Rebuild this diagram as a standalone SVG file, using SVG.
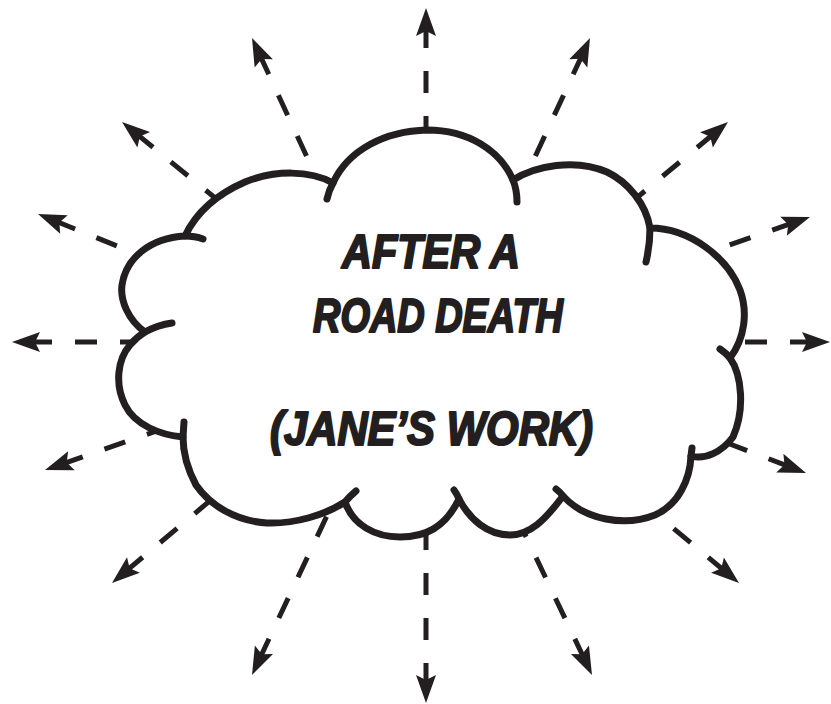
<svg xmlns="http://www.w3.org/2000/svg" width="831" height="704" viewBox="0 0 831 704">
  <style>
    .arrow { fill: none; stroke: #231f20; stroke-width: 5; stroke-dasharray: 22 23; stroke-dashoffset: 27; marker-start: url(#ah); }
    .cloud { fill: #ffffff; stroke: #231f20; stroke-width: 7; stroke-linejoin: round; }
    .tail { fill: none; stroke: #231f20; stroke-width: 7; stroke-linecap: round; }
    .label { font-family: "Liberation Sans", Arial, sans-serif; font-weight: bold; font-style: italic; font-size: 48px; fill: #231f20; stroke: #231f20; stroke-width: 2.2; stroke-linejoin: round; }
  </style>
  <defs>
    <marker id="ah" markerUnits="userSpaceOnUse" markerWidth="40" markerHeight="30" viewBox="-30 -15 40 30" refX="0" refY="0" orient="auto-start-reverse" overflow="visible">
      <path d="M0,0 L-28,-10 L-23,0 L-28,10 Z" fill="#231f20"/>
    </marker>
  </defs>
  <rect width="831" height="704" fill="#ffffff"/>
  <g id="connectors">
    <path class="arrow" d="M426,8 L426,150"/>
    <path class="arrow" d="M252,38 L312,168"/>
    <path class="arrow" d="M590,38 L528,172"/>
    <path class="arrow" d="M122,122 L225,206"/>
    <path class="arrow" d="M728,122 L628,205"/>
    <path class="arrow" d="M38,214 L132,252"/>
    <path class="arrow" d="M810,217 L718,249"/>
    <path class="arrow" d="M12,342 L155,342"/>
    <path class="arrow" d="M830,342 L728,342"/>
    <path class="arrow" d="M45,470 L165,428"/>
    <path class="arrow" d="M806,473 L714,438"/>
    <path class="arrow" d="M112,583 L218,494"/>
    <path class="arrow" d="M739,583 L661,518"/>
    <path class="arrow" d="M252,675 L332,505"/>
    <path class="arrow" d="M426,703 L426,525"/>
    <path class="arrow" d="M592,675 L520,524"/>
  </g>
  <g id="cloud">
    <path class="cloud" d="M333,183 C348,150 385,131 427,130 C468,130 500,150 513,180 C535,166 575,158 607,172 C628,182 646,204 650,228 C690,228 728,258 740,290 C748,312 745,338 730,358 C742,375 745,410 733,437 C722,452 705,460 691,456 C690,480 678,505 655,515 C625,527 585,520 563,496 C545,520 530,535 510,535 C488,535 470,520 459,499 C445,528 425,537 400,537 C375,537 353,525 345,502 C325,515 295,524 267,523 C235,521 210,505 196,485 C188,470 183,455 183,437 C160,435 135,425 125,405 C115,385 117,360 130,345 C135,339 140,335 145,332 C128,320 120,300 122,285 C126,258 150,238 185,236 C195,215 215,195 245,182 C275,170 310,170 333,183 Z"/>
    <path class="tail" d="M333,183 Q329,190 327,199 M513,180 Q517,190 517,202 M185,236 Q195,236 203,239 M145,332 Q158,325 172,323 M183,437 L184,422 M345,502 Q350,496 356,491 M459,499 Q457,494 454,490 M563,496 Q560,492 556,489 M691,456 L692,448 M730,358 Q726,353 720,349 M650,228 Q650,245 646,262"/>
    <text class="label" x="342" y="268" textLength="178" lengthAdjust="spacingAndGlyphs">AFTER A</text>
    <text class="label" x="313" y="332" textLength="250" lengthAdjust="spacingAndGlyphs">ROAD DEATH</text>
    <text class="label" x="270" y="445" textLength="323" lengthAdjust="spacingAndGlyphs">(JANE’S WORK)</text>
  </g>
</svg>
